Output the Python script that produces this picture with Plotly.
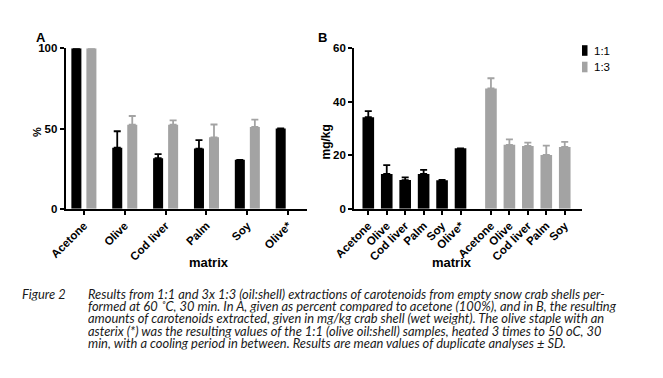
import plotly.graph_objects as go

# ---------------- data ----------------
cats_A = ["Acetone", "Olive", "Cod liver", "Palm", "Soy", "Olive*"]
A_11 = [100, 38, 31.5, 37.5, 30.5, 50]
A_11_err = [0, 10.3, 2.5, 5.2, 0, 0]
A_13 = [100, 52.4, 52.4, 44.5, 51, None]
A_13_err = [0, 5.4, 2.7, 8.0, 4.5, None]

cats_B_11 = ["Acetone", "Olive", "Cod liver", "Palm", "Soy", "Olive*"]
B_11 = [34.2, 13.0, 10.7, 13.0, 10.6, 22.6]
B_11_err = [2.3, 3.3, 1.0, 1.5, 0.2, 0]
cats_B_13 = ["Acetone", "Olive", "Cod liver", "Palm", "Soy"]
B_13 = [45.0, 23.9, 23.5, 20.1, 23.1]
B_13_err = [3.8, 2.0, 1.2, 3.5, 1.9]

series_names = ["1:1", "1:3"]
y_ticks_A = [0, 50, 100]
y_ticks_B = [0, 20, 40, 60]

caption_label = "Figure 2"
caption_lines = [
    "Results from 1:1 and 3x 1:3 (oil:shell) extractions of carotenoids from empty snow crab shells per-",
    "formed at 60 ˚C, 30 min. In A, given as percent compared to acetone (100%), and in B, the resulting",
    "amounts of carotenoids extracted, given in mg/kg crab shell (wet weight). The olive staple with an",
    "asterix (*) was the resulting values of the 1:1 (olive oil:shell) samples, heated 3 times to 50 oC, 30",
    "min, with a cooling period in between. Results are mean values of duplicate analyses ± SD.",
]

# ---------------- style ----------------
W, H = 663, 378
BLACK = "#000000"
GREY = "#a3a3a3"
COLORS = [BLACK, GREY]
FONT = "Liberation Sans"
GAP_B = 1.65  # spacing between the 1:1 block and the 1:3 block in panel B

def px_x(p):
    return p / W

def px_y(p):
    return 1 - p / H

pos_B_11 = list(range(len(cats_B_11)))
pos_B_13 = [len(cats_B_11) - 1 + GAP_B + i for i in range(len(cats_B_13))]

fig = go.Figure()

err_style = dict(type="data", symmetric=False, thickness=1.8, width=3.5)

fig.add_trace(go.Bar(
    x=cats_A, y=A_11, marker=dict(color=BLACK, line=dict(width=0)),
    error_y=dict(array=A_11_err, arrayminus=[0] * len(A_11), color=BLACK, **err_style),
    xaxis="x", yaxis="y", name=series_names[0], showlegend=False))
fig.add_trace(go.Bar(
    x=cats_A, y=A_13, marker=dict(color=GREY, line=dict(width=0)),
    error_y=dict(array=A_13_err, arrayminus=[0] * len(A_13), color=GREY, **err_style),
    xaxis="x", yaxis="y", name=series_names[1], showlegend=False))

bw = 0.63
fig.add_trace(go.Bar(
    x=pos_B_11, y=B_11, width=bw, offset=-bw / 2,
    marker=dict(color=BLACK, line=dict(width=0)),
    error_y=dict(array=B_11_err, arrayminus=[0] * len(B_11), color=BLACK, **err_style),
    xaxis="x2", yaxis="y2", name=series_names[0], showlegend=False))
fig.add_trace(go.Bar(
    x=pos_B_13, y=B_13, width=bw, offset=-bw / 2,
    marker=dict(color=GREY, line=dict(width=0)),
    error_y=dict(array=B_13_err, arrayminus=[0] * len(B_13), color=GREY, **err_style),
    xaxis="x2", yaxis="y2", name=series_names[1], showlegend=False))

tickfont = dict(family=FONT, size=11.5, color="#000", weight="bold")
xtickfont = dict(family=FONT, size=11.5, color="#000", weight="bold")
ax_common = dict(showline=True, linecolor="#000", linewidth=1.6, showgrid=False,
                 zeroline=False, ticks="outside", ticklen=4, tickwidth=1.5,
                 tickcolor="#000", automargin=False)

y0, y1 = px_y(208.7), px_y(48.3)

fig.update_layout(
    width=W, height=H, autosize=False,
    margin=dict(l=0, r=0, t=0, b=0, pad=0, autoexpand=False),
    paper_bgcolor="white", plot_bgcolor="white",
    barmode="group", bargap=0.265, bargroupgap=0.333,
    xaxis=dict(domain=[px_x(65.5), px_x(307)], anchor="y", range=[-0.45, 5.46],
               tickangle=-45, tickfont=xtickfont, **ax_common),
    yaxis=dict(domain=[y0, y1], anchor="x", range=[0, 100], tickvals=y_ticks_A,
               tickfont=tickfont, **ax_common),
    xaxis2=dict(domain=[px_x(354), px_x(581.7)], anchor="y2", range=[-0.775, 11.57],
                tickvals=pos_B_11 + pos_B_13, ticktext=cats_B_11 + cats_B_13,
                tickangle=-45, tickfont=xtickfont, **ax_common),
    yaxis2=dict(domain=[y0, y1], anchor="x2", range=[0, 60], tickvals=y_ticks_B,
                tickfont=tickfont, **ax_common),
    showlegend=False,
)

# legend (drawn as small swatches + labels, Prism style)
shapes = []
ann = []
for i, (nm, col) in enumerate(zip(series_names, COLORS)):
    cy = 50.5 + 16.5 * i
    shapes.append(dict(type="rect", xref="paper", yref="paper",
                       x0=px_x(582), x1=px_x(587.5), y0=px_y(cy + 5.3), y1=px_y(cy - 5.3),
                       fillcolor=col, line=dict(width=0)))
    ann.append(dict(text=nm, x=px_x(592), y=px_y(cy), xanchor="left", yanchor="middle",
                    showarrow=False, font=dict(family=FONT, size=11.5, color="#000")))

ann.append(dict(text="A", x=px_x(33.5), y=px_y(28), showarrow=False,
                font=dict(family=FONT, size=13, color="#000", weight="bold")))
ann.append(dict(text="B", x=px_x(322.5), y=px_y(28), showarrow=False,
                font=dict(family=FONT, size=13, color="#000", weight="bold")))
ann.append(dict(text="%", x=px_x(29), y=px_y(125), showarrow=False, textangle=-90,
                font=dict(family=FONT, size=11, color="#000", weight="bold")))
ann.append(dict(text="mg/kg", x=px_x(325), y=px_y(123), showarrow=False, textangle=-90,
                font=dict(family=FONT, size=12, color="#000", weight="bold")))
ann.append(dict(text="matrix", x=px_x(186.7), y=px_y(271.5), showarrow=False,
                font=dict(family=FONT, size=13, color="#000", weight="bold")))
ann.append(dict(text="matrix", x=px_x(474), y=px_y(271.5), showarrow=False,
                font=dict(family=FONT, size=13, color="#000", weight="bold")))

cap_font = dict(family="Lato", size=12.9, color="#1a1a1a")
ann.append(dict(text="<i>" + caption_label + "</i>", x=px_x(20), y=px_y(293.5),
                xanchor="left", yanchor="middle", showarrow=False, font=cap_font,
                height=12.4, valign="middle"))
for i, line in enumerate(caption_lines):
    ann.append(dict(text="<i>" + line + "</i>", x=px_x(86), y=px_y(293.5 + 12.4 * i),
                    xanchor="left", yanchor="middle", showarrow=False, font=cap_font,
                    height=12.4, valign="middle"))

for a in ann:
    a.setdefault("xref", "paper")
    a.setdefault("yref", "paper")
fig.update_layout(annotations=ann, shapes=shapes)

fig.write_html("out.html", config={"displayModeBar": False},
               post_script="document.body.style.margin='0px';")
